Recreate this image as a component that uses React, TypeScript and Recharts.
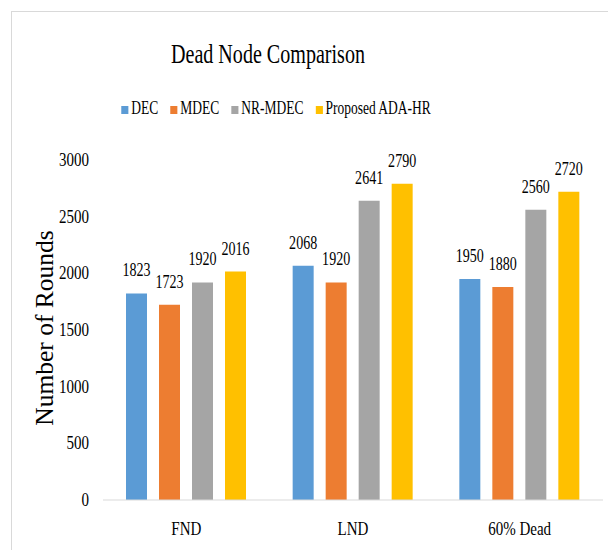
import React from 'react';
import { BarChart, Bar, XAxis, YAxis, Legend, LabelList } from 'recharts';

const categories = ['FND', 'LND', '60% Dead'];
const dec = [1823, 2068, 1950];
const mdec = [1723, 1920, 1880];
const nrMdec = [1920, 2641, 2560];
const adaHr = [2016, 2790, 2720];
const yTicks = [0, 500, 1000, 1500, 2000, 2500, 3000];

const series = [
    { key: 'dec', name: 'DEC', color: '#5B9BD5' },
    { key: 'mdec', name: 'MDEC', color: '#ED7D31' },
    { key: 'nrMdec', name: 'NR-MDEC', color: '#A5A5A5' },
    { key: 'adaHr', name: 'Proposed ADA-HR', color: '#FFC000' },
];

const data = categories.map((name, i) => ({
    name,
    dec: dec[i],
    mdec: mdec[i],
    nrMdec: nrMdec[i],
    adaHr: adaHr[i],
}));

const FONT = 'Liberation Serif, Tinos, DejaVu Serif, serif';

const YTick = ({ x, y, payload }: any) => (
    <text transform={`translate(${x},${y}) scale(0.79,1)`} textAnchor="end" dy="0.32em"
        style={{ fontFamily: FONT }} fontSize={19} fill="#000">
        {payload.value}
    </text>
);

const XTick = ({ x, y, payload }: any) => (
    <text transform={`translate(${x},${y + 35}) scale(0.79,1)`} textAnchor="middle"
        style={{ fontFamily: FONT }} fontSize={19} fill="#000">
        {payload.value}
    </text>
);

const ValueLabel = ({ x, y, width, value }: any) => (
    <text transform={`translate(${x + width / 2},${y - 17}) scale(0.74,1)`} textAnchor="middle"
        style={{ fontFamily: FONT }} fontSize={19} fill="#000">
        {value}
    </text>
);

const LegendContent = () => (
    <div style={{ position: 'relative', width: 608, height: 22 }}>
        <div style={{
            position: 'absolute', left: 275.5, top: 0, display: 'flex', alignItems: 'baseline',
            gap: 17, whiteSpace: 'nowrap', fontFamily: FONT, fontSize: 19, lineHeight: '19px',
            color: '#000', transform: 'translateX(-50%) scaleX(0.71)',
        }}>
            {series.map((s) => (
                <span key={s.key} style={{ display: 'flex', alignItems: 'baseline' }}>
                    <span style={{ display: 'inline-block', width: 10, height: 8, marginRight: 4, marginBottom: 2, background: s.color }} />
                    {s.name}
                </span>
            ))}
        </div>
    </div>
);

export default function App() {
    return (
        <div style={{ position: 'absolute', left: 0, top: 0, width: 608, height: 550, overflow: 'hidden', background: '#fff', fontFamily: FONT }}>
            <div style={{ position: 'absolute', left: 11, top: 11, width: 700, height: 700, border: '1px solid #d9d9d9' }} />
            <svg width={608} height={80} style={{ position: 'absolute', left: 0, top: 0 }}>
                <text transform="translate(268,63) scale(0.717,1)" textAnchor="middle"
                    style={{ fontFamily: FONT }} fontSize={28} fill="#000">
                    Dead Node Comparison
                </text>
            </svg>
            <div style={{ position: 'absolute', left: 0, top: 0 }}>
                <BarChart width={608} height={550} data={data} barSize={21} barGap={12}
                    margin={{ top: 160, right: 5, bottom: 0, left: 0 }}>
                    <XAxis dataKey="name" height={50} stroke="#d9d9d9" tickLine={false}
                        tickSize={0} tickMargin={0} tick={<XTick />} interval={0} />
                    <YAxis width={103} domain={[0, 3000]} ticks={yTicks} axisLine={false}
                        tickLine={false} tickSize={0} tickMargin={14} tick={<YTick />}
                        label={{
                            content: ({ viewBox }: any) => {
                                const cy = viewBox.y + viewBox.height / 2;
                                return (
                                    <text transform={`translate(53,${cy - 2}) rotate(-90)`} textAnchor="middle"
                                        style={{ fontFamily: FONT }} fontSize={25.5} fill="#000">
                                        Number of Rounds
                                    </text>
                                );
                            },
                        }} />
                    <Legend verticalAlign="middle" align="center" content={<LegendContent />}
                        wrapperStyle={{ top: 98, left: 0, width: 608 }} />
                    {series.map((s) => (
                        <Bar key={s.key} dataKey={s.key} name={s.name} fill={s.color} isAnimationActive={false}>
                            <LabelList dataKey={s.key} content={<ValueLabel />} />
                        </Bar>
                    ))}
                </BarChart>
            </div>
        </div>
    );
}
